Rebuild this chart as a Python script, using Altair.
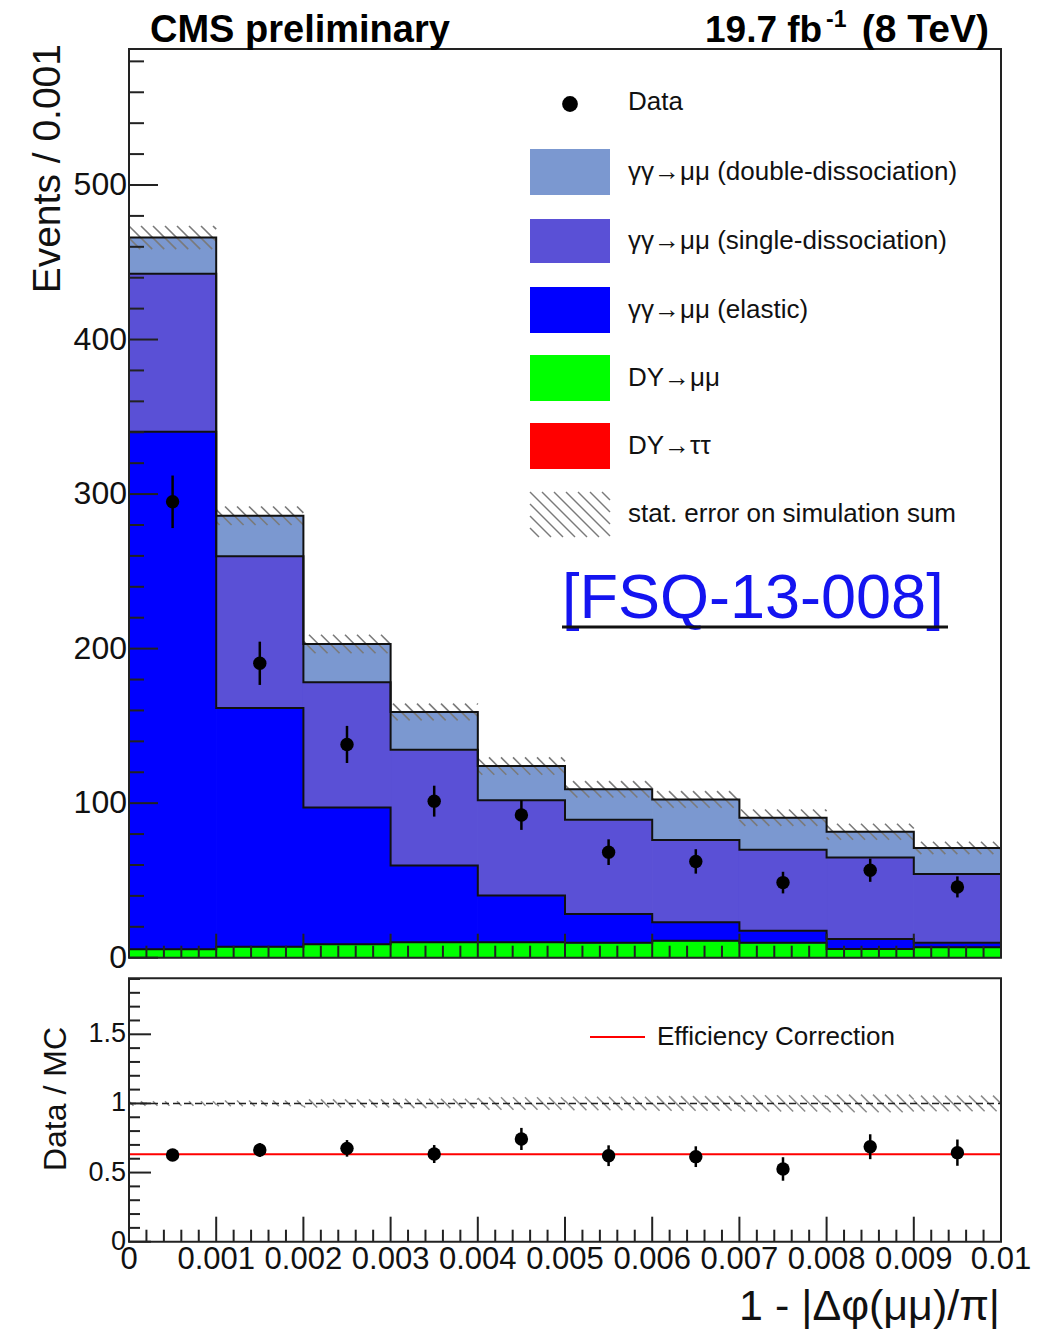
import math
import altair as alt
import numpy as np
import pandas as pd

# ---------------- data ----------------
bin_lo = [0.000, 0.001, 0.002, 0.003, 0.004, 0.005, 0.006, 0.007, 0.008, 0.009]
bin_hi = [0.001, 0.002, 0.003, 0.004, 0.005, 0.006, 0.007, 0.008, 0.009, 0.010]
bin_mid = [0.0005, 0.0015, 0.0025, 0.0035, 0.0045, 0.0055, 0.0065, 0.0075, 0.0085, 0.0095]

dy_tautau = [0, 0, 0, 0, 0, 0, 0, 0, 0, 0]
dy_mumu = [5.4, 7.1, 8.7, 10.0, 10.0, 9.7, 11.0, 9.7, 5.6, 6.7]
gg_elastic = [335.0, 154.4, 88.5, 49.7, 30.2, 18.6, 11.9, 7.8, 6.5, 3.0]
gg_single = [102.2, 98.3, 81.0, 74.8, 61.7, 60.9, 53.3, 52.4, 52.8, 44.4]
gg_double = [23.4, 26.2, 24.8, 24.5, 22.1, 19.8, 26.2, 20.7, 16.6, 16.9]
mc_stat_err = [7.5, 6.0, 6.0, 5.4, 5.6, 5.3, 5.4, 5.3, 5.2, 4.0]

data_val = [295.0, 190.5, 138.0, 101.3, 92.3, 68.3, 62.3, 48.6, 56.6, 45.8]
data_err = [17.0, 14.0, 12.0, 10.0, 9.6, 8.3, 7.9, 7.0, 7.5, 6.8]

ratio_val = [0.627, 0.663, 0.675, 0.634, 0.743, 0.622, 0.615, 0.526, 0.687, 0.644]
ratio_err = [0.04, 0.05, 0.06, 0.065, 0.08, 0.075, 0.075, 0.085, 0.09, 0.095]
eff_corr = 0.632

comp_names = ["DY→ττ", "DY→μμ", "γγ→μμ (elastic)", "γγ→μμ (single-dissociation)", "γγ→μμ (double-dissociation)"]
comp_colors = ["#ff0000", "#00ff00", "#0000ff", "#5a50d6", "#7b98d0"]
comp_values = [dy_tautau, dy_mumu, gg_elastic, gg_single, gg_double]

x_major = [0.000, 0.001, 0.002, 0.003, 0.004, 0.005, 0.006, 0.007, 0.008, 0.009, 0.010]
x_major_labels = ["0", "0.001", "0.002", "0.003", "0.004", "0.005", "0.006", "0.007", "0.008", "0.009", "0.01"]
yt_major = [0, 100, 200, 300, 400, 500]
yb_major = [0, 0.5, 1, 1.5]
yb_major_labels = ["0", "0.5", "1", "1.5"]

# ---------------- layout ----------------
W, H = 1053, 1329
X0, X1 = 129, 1001
XMAX = 0.01
T_Y0, T_Y1, T_MAX = 957.7, 49.0, 588.0
B_Y0, B_Y1, B_MAX = 1241.7, 978.3, 1.905
FONT = "Liberation Sans"
TXT = "#111111"

xs = alt.Scale(domain=[0, XMAX], range=[X0, X1], nice=False, zero=False)
yts = alt.Scale(domain=[0, T_MAX], range=[T_Y0, T_Y1], nice=False, zero=False)
ybs = alt.Scale(domain=[0, B_MAX], range=[B_Y0, B_Y1], nice=False, zero=False)

px_per_x = (X1 - X0) / XMAX
pt_per_y = (T_Y0 - T_Y1) / T_MAX
pb_per_y = (B_Y0 - B_Y1) / B_MAX


def X(f):
    return alt.X(f, type="quantitative", scale=xs, axis=None)


def YT(f):
    return alt.Y(f, type="quantitative", scale=yts, axis=None)


def YB(f):
    return alt.Y(f, type="quantitative", scale=ybs, axis=None)


layers = []

# ---- stacked histogram fills ----
rows = []
base = np.zeros(10)
for name, vals in zip(comp_names, comp_values):
    v = np.array(vals, dtype=float)
    for i in range(10):
        rows.append(dict(comp=name, lo=bin_lo[i], hi=bin_hi[i], y0=base[i], y1=base[i] + v[i]))
    base = base + v
total = base.copy()
stack_df = pd.DataFrame(rows)
stack_df = stack_df[stack_df.y1 > stack_df.y0]
comp_scale = alt.Scale(domain=comp_names, range=comp_colors)
layers.append(
    alt.Chart(stack_df).mark_rect(strokeWidth=1).encode(
        x=X("lo"), x2="hi", y=YT("y0"), y2="y1",
        color=alt.Color("comp:N", scale=comp_scale, legend=None),
        stroke=alt.Stroke("comp:N", scale=comp_scale, legend=None),
    )
)


# ---- hatch helper ----
def hatch(lo_list, hi_list, bot_list, top_list, ppy, step=12.0):
    out = []
    for lo, hi, b, t in zip(lo_list, hi_list, bot_list, top_list):
        lo_px, hi_px = lo * px_per_x, hi * px_per_x
        h = (t - b) * ppy
        if h <= 0:
            continue
        k0 = math.floor((lo_px - h) / step)
        k1 = math.ceil(hi_px / step)
        for k in range(k0, k1 + 1):
            sx = k * step
            ex = sx + h
            a = max(sx, lo_px)
            c = min(ex, hi_px)
            if c - a < 0.8:
                continue
            ya = t - (a - sx) / h * (t - b)
            yc = t - (c - sx) / h * (t - b)
            out.append(dict(xa=a / px_per_x, xb=c / px_per_x, ya=ya, yb=yc))
    return pd.DataFrame(out)


tot_lo = [total[i] - mc_stat_err[i] for i in range(10)]
tot_hi = [total[i] + mc_stat_err[i] for i in range(10)]
hat_top = hatch(bin_lo, bin_hi, tot_lo, tot_hi, pt_per_y)
layers.append(
    alt.Chart(hat_top).mark_rule(color="#7a7a7a", strokeWidth=1.6).encode(
        x=X("xa"), x2="xb", y=YT("ya"), y2="yb"
    )
)

# ---- step outlines ----
srows = []
cum = np.zeros(10)
for li, vals in enumerate(comp_values):
    cum = cum + np.array(vals, dtype=float)
    if li == 0 and np.all(np.array(vals) == 0):
        continue
    for i in range(10):
        srows.append(dict(level=li, x=bin_lo[i], y=cum[i]))
    srows.append(dict(level=li, x=bin_hi[9], y=cum[9]))
step_df = pd.DataFrame(srows)
layers.append(
    alt.Chart(step_df).mark_line(interpolate="step-after", color="#111111", strokeWidth=2).encode(
        x=X("x"), y=YT("y"), detail="level:N"
    )
)

# ---- top frame ----
frame_t = pd.DataFrame(dict(a=[0.0], b=[XMAX], c=[0.0], d=[T_MAX]))
layers.append(
    alt.Chart(frame_t).mark_rect(fillOpacity=0, stroke="#222222", strokeWidth=2).encode(
        x=X("a"), x2="b", y=YT("c"), y2="d"
    )
)

# ---- top ticks ----
xt_minor = [round(i * 0.0002, 6) for i in range(51)]
xtick_df = pd.DataFrame(dict(x=xt_minor, major=[abs(v * 1000 - round(v * 1000)) < 1e-6 for v in xt_minor]))
for major, ln in [(True, 24), (False, 12)]:
    d = xtick_df[xtick_df.major == major]
    layers.append(
        alt.Chart(d).mark_rule(color="#222222", strokeWidth=2).encode(
            x=X("x"), y=alt.value(T_Y0), y2=alt.value(T_Y0 - ln)
        )
    )
yt_minor = [v for v in range(0, 581, 20) if v % 100 != 0]
layers.append(
    alt.Chart(pd.DataFrame(dict(y=yt_major))).mark_rule(color="#222222", strokeWidth=2).encode(
        y=YT("y"), x=alt.value(X0), x2=alt.value(X0 + 29)
    )
)
layers.append(
    alt.Chart(pd.DataFrame(dict(y=yt_minor))).mark_rule(color="#222222", strokeWidth=2).encode(
        y=YT("y"), x=alt.value(X0), x2=alt.value(X0 + 15)
    )
)
layers.append(
    alt.Chart(pd.DataFrame(dict(y=yt_major, t=[str(v) for v in yt_major]))).mark_text(
        align="right", baseline="middle", font=FONT, fontSize=32, color=TXT
    ).encode(y=YT("y"), x=alt.value(X0 - 2), text="t:N")
)

# ---- data points (top) ----
dat_df = pd.DataFrame(dict(x=bin_mid, y=data_val, lo=[v - e for v, e in zip(data_val, data_err)],
                           hi=[v + e for v, e in zip(data_val, data_err)]))
layers.append(
    alt.Chart(dat_df).mark_rule(color="black", strokeWidth=2.5).encode(x=X("x"), y=YT("lo"), y2="hi")
)
layers.append(
    alt.Chart(dat_df).mark_circle(color="black", opacity=1, size=180).encode(x=X("x"), y=YT("y"))
)

# ---- bottom panel ----
rel = [mc_stat_err[i] / total[i] for i in range(10)]
hat_bot = hatch(bin_lo, bin_hi, [1 - r for r in rel], [1 + r for r in rel], pb_per_y)
layers.append(
    alt.Chart(hat_bot).mark_rule(color="#8a8a8a", strokeWidth=1.5).encode(
        x=X("xa"), x2="xb", y=YB("ya"), y2="yb"
    )
)
one_df = pd.DataFrame(dict(a=[0.0], b=[XMAX], y=[1.0], e=[eff_corr]))
layers.append(
    alt.Chart(one_df).mark_rule(color="#222222", strokeWidth=1.6, strokeDash=[7, 4]).encode(
        x=X("a"), x2="b", y=YB("y")
    )
)
layers.append(
    alt.Chart(one_df).mark_rule(color="#ff0000", strokeWidth=2).encode(
        x=X("a"), x2="b", y=YB("e")
    )
)
frame_b = pd.DataFrame(dict(a=[0.0], b=[XMAX], c=[0.0], d=[B_MAX]))
layers.append(
    alt.Chart(frame_b).mark_rect(fillOpacity=0, stroke="#222222", strokeWidth=2).encode(
        x=X("a"), x2="b", y=YB("c"), y2="d"
    )
)
for major, ln in [(True, 25), (False, 12)]:
    d = xtick_df[xtick_df.major == major]
    layers.append(
        alt.Chart(d).mark_rule(color="#222222", strokeWidth=2).encode(
            x=X("x"), y=alt.value(B_Y0), y2=alt.value(B_Y0 - ln)
        )
    )
yb_minor = [round(i * 0.1, 2) for i in range(0, 20) if i % 5 != 0]
layers.append(
    alt.Chart(pd.DataFrame(dict(y=yb_major))).mark_rule(color="#222222", strokeWidth=2).encode(
        y=YB("y"), x=alt.value(X0), x2=alt.value(X0 + 22)
    )
)
layers.append(
    alt.Chart(pd.DataFrame(dict(y=yb_minor))).mark_rule(color="#222222", strokeWidth=2).encode(
        y=YB("y"), x=alt.value(X0), x2=alt.value(X0 + 11)
    )
)
layers.append(
    alt.Chart(pd.DataFrame(dict(y=yb_major, t=yb_major_labels))).mark_text(
        align="right", baseline="middle", font=FONT, fontSize=27, color=TXT
    ).encode(y=YB("y"), x=alt.value(X0 - 3), text="t:N")
)
layers.append(
    alt.Chart(pd.DataFrame(dict(x=x_major, t=x_major_labels))).mark_text(
        align="center", baseline="top", font=FONT, fontSize=31, color=TXT
    ).encode(x=X("x"), y=alt.value(B_Y0 + 3), text="t:N")
)
rat_df = pd.DataFrame(dict(x=bin_mid, y=ratio_val, lo=[v - e for v, e in zip(ratio_val, ratio_err)],
                           hi=[v + e for v, e in zip(ratio_val, ratio_err)]))
layers.append(
    alt.Chart(rat_df).mark_rule(color="black", strokeWidth=2.5).encode(x=X("x"), y=YB("lo"), y2="hi")
)
layers.append(
    alt.Chart(rat_df).mark_circle(color="black", opacity=1, size=180).encode(x=X("x"), y=YB("y"))
)

# ---- texts ----
dummy = pd.DataFrame(dict(k=[0]))


def text(s, x, y, size, align="left", baseline="alphabetic", bold=False, angle=0, color=TXT):
    kw = dict(text=s, align=align, baseline=baseline, font=FONT, fontSize=size, color=color)
    if bold:
        kw["fontWeight"] = "bold"
    if angle:
        kw["angle"] = angle
    return alt.Chart(dummy).mark_text(**kw).encode(x=alt.value(x), y=alt.value(y))


layers.append(text("CMS preliminary", 150, 42, 38, bold=True, color="#000000"))
layers.append(text("19.7 fb", 705, 42, 37, bold=True, color="#000000"))
layers.append(text("-1", 826, 27, 23, bold=True, color="#000000"))
layers.append(text("(8 TeV)", 989, 42, 39, align="right", bold=True, color="#000000"))
layers.append(text("Events / 0.001", 48, 44, 39, align="right", baseline="middle", angle=270))
layers.append(text("Data / MC", 56, 1027, 32, align="right", baseline="middle", angle=270))
layers.append(text("1 - |Δφ(μμ)/π|", 1000, 1320, 43, align="right"))

# ---- legend (top) ----
LX0, LX1 = 530, 610
TX = 628
layers.append(
    alt.Chart(dummy).mark_circle(color="black", opacity=1, size=250).encode(x=alt.value(570), y=alt.value(104))
)
layers.append(text("Data", TX, 102, 26, baseline="middle"))
leg_boxes = [
    ("γγ→μμ (double-dissociation)", comp_colors[4], 149, 195),
    ("γγ→μμ (single-dissociation)", comp_colors[3], 219, 263),
    ("γγ→μμ (elastic)", comp_colors[2], 287, 333),
    ("DY→μμ", comp_colors[1], 355, 401),
    ("DY→ττ", comp_colors[0], 423, 469),
]
for lab, col, ya, yb in leg_boxes:
    layers.append(
        alt.Chart(dummy).mark_rect(color=col).encode(
            x=alt.value(LX0), x2=alt.value(LX1), y=alt.value(ya), y2=alt.value(yb)
        )
    )
    layers.append(text(lab, TX, (ya + yb) / 2, 26, baseline="middle"))

# hatch legend box
hb_top, hb_bot = 492, 537
hrows = []
hh = hb_bot - hb_top
for k in range(-5, 9):
    sx = LX0 + k * 12.0
    ex = sx + hh
    a = max(sx, LX0)
    c = min(ex, LX1)
    if c - a < 1:
        continue
    hrows.append(dict(xa=a, xb=c, ya=hb_top + (a - sx), yb=hb_top + (c - sx)))
hl_df = pd.DataFrame(hrows)
layers.append(
    alt.Chart(hl_df).mark_rule(color="#7a7a7a", strokeWidth=1.4).encode(
        x=alt.X("xa:Q", scale=None, axis=None), x2="xb",
        y=alt.Y("ya:Q", scale=None, axis=None), y2="yb",
    )
)
layers.append(text("stat. error on simulation sum", TX, 514, 26, baseline="middle"))

# FSQ label
layers.append(text("[FSQ-13-008]", 562, 618, 63, color="#1414f0"))
layers.append(
    alt.Chart(dummy).mark_rule(color="#111111", strokeWidth=3).encode(
        x=alt.value(562), x2=alt.value(948), y=alt.value(627)
    )
)

# legend (bottom)
layers.append(
    alt.Chart(dummy).mark_rule(color="#ff0000", strokeWidth=2).encode(
        x=alt.value(590), x2=alt.value(645), y=alt.value(1037)
    )
)
layers.append(text("Efficiency Correction", 657, 1037, 26, baseline="middle"))

chart = (
    alt.layer(*layers)
    .resolve_scale(y="independent")
    .properties(width=W, height=H, autosize=alt.AutoSizeParams(type="none"), padding=0, background="white")
    .configure_view(strokeWidth=0)
)

chart.save("out.html", embed_options={"renderer": "svg", "actions": False})
